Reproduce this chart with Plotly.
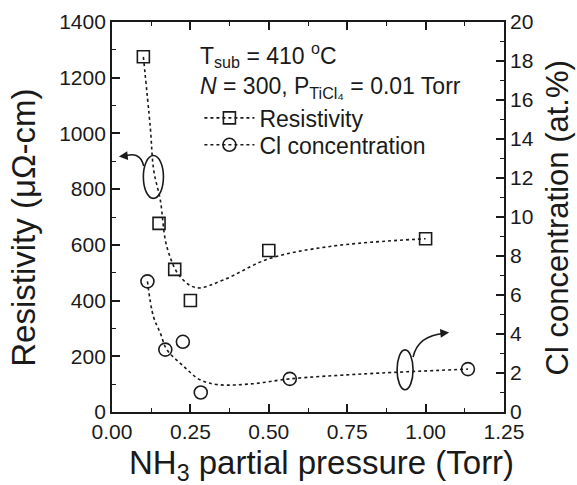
import plotly.graph_objects as go

# Measured data
res_x = [0.10, 0.15, 0.20, 0.25, 0.50, 1.00]
res_y = [1275, 677, 512, 400, 580, 622]
cl_x = [0.113, 0.170, 0.226, 0.283, 0.567, 1.135]
cl_y = [6.7, 3.2, 3.6, 1.0, 1.7, 2.2]

# Guide-to-the-eye curves
res_curve_x = [0.10, 0.122, 0.133, 0.154, 0.175, 0.217, 0.27, 0.355, 0.50, 0.70, 1.00]
res_curve_y = [1275, 1023, 868, 761, 593, 486, 446, 474, 550, 595, 622]
cl_curve_x = [0.113, 0.132, 0.154, 0.175, 0.228, 0.281, 0.34, 0.45, 0.567, 0.80, 1.135]
cl_curve_y = [6.7, 4.9, 4.05, 3.2, 2.35, 1.65, 1.4, 1.45, 1.7, 1.95, 2.2]

x_ticks = [0.00, 0.25, 0.50, 0.75, 1.00, 1.25]
x_labels = ["0.00", "0.25", "0.50", "0.75", "1.00", "1.25"]

INK = "#1a1a1a"
FONT = "Liberation Sans, Arial, sans-serif"

fig = go.Figure()
fig.add_trace(go.Scatter(x=res_curve_x, y=res_curve_y, mode="lines",
                         line=dict(color=INK, width=1.6, dash="dot", shape="spline", smoothing=1.0),
                         showlegend=False, hoverinfo="skip"))
fig.add_trace(go.Scatter(x=res_x, y=res_y, mode="markers",
                         marker=dict(symbol="square-open", size=12, color=INK, line=dict(width=1.6)),
                         showlegend=False))
fig.add_trace(go.Scatter(x=cl_curve_x, y=cl_curve_y, mode="lines", yaxis="y2",
                         line=dict(color=INK, width=1.6, dash="dot", shape="spline", smoothing=1.0),
                         showlegend=False, hoverinfo="skip"))
fig.add_trace(go.Scatter(x=cl_x, y=cl_y, mode="markers", yaxis="y2",
                         marker=dict(symbol="circle-open", size=13, color=INK, line=dict(width=1.6)),
                         showlegend=False))
# legend entries
fig.add_trace(go.Scatter(x=[None], y=[None], mode="lines+markers", name="Resistivity",
                         line=dict(color=INK, width=1.6, dash="dot"), legend="legend",
                         marker=dict(symbol="square-open", size=12, color=INK, line=dict(width=1.6))))
fig.add_trace(go.Scatter(x=[None], y=[None], mode="lines+markers", name="Cl concentration",
                         line=dict(color=INK, width=1.6, dash="dot"), legend="legend2",
                         marker=dict(symbol="circle-open", size=13, color=INK, line=dict(width=1.6))))

axis_common = dict(showline=True, linecolor=INK, linewidth=1.8, ticks="inside",
                   ticklen=8, tickwidth=1.5, tickcolor=INK, showgrid=False, zeroline=False,
                   automargin=False,
                   tickfont=dict(size=21, color=INK, family=FONT))

legend_common = dict(xanchor="left", yanchor="middle", bgcolor="rgba(0,0,0,0)",
                     font=dict(size=23, color=INK, family=FONT), itemwidth=50)

fig.update_layout(
    width=577, height=485,
    margin=dict(l=112, r=73, t=22, b=73),
    paper_bgcolor="white", plot_bgcolor="white",
    font=dict(family=FONT, color=INK),
    xaxis=dict(range=[0, 1.25], tickvals=x_ticks, ticktext=x_labels, mirror="ticks",
               minor=dict(ticks="inside", ticklen=4, tickwidth=1.2, tickcolor=INK, dtick=0.125, tick0=0),
               **axis_common),
    yaxis=dict(range=[0, 1400], dtick=200,
               minor=dict(ticks="inside", ticklen=4, tickwidth=1.2, tickcolor=INK, dtick=100),
               **axis_common),
    yaxis2=dict(range=[0, 20], dtick=2, overlaying="y", side="right",
                minor=dict(ticks="inside", ticklen=4, tickwidth=1.2, tickcolor=INK, dtick=1),
                **axis_common),
    legend=dict(x=0.223, y=0.754, **legend_common),
    legend2=dict(x=0.223, y=0.685, **legend_common),
    showlegend=True,
)

# axis titles
fig.add_annotation(xref="paper", yref="paper", x=0.5335, y=-0.135, xanchor="center", yanchor="middle",
                   text="NH<sub>3</sub> partial pressure (Torr)", showarrow=False, font=dict(size=33))
fig.add_annotation(xref="paper", yref="paper", x=-0.226, y=0.4735, xanchor="center", yanchor="middle",
                   text="Resistivity (μΩ-cm)", textangle=-90, showarrow=False, font=dict(size=33))
fig.add_annotation(xref="paper", yref="paper", x=1.137, y=0.498, xanchor="center", yanchor="middle",
                   text="Cl concentration (at.%)", textangle=-90, showarrow=False, font=dict(size=31))

fig.add_annotation(xref="paper", yref="paper", x=0.22, y=0.915, xanchor="left", yanchor="middle",
                   text="T<sub>sub</sub> = 410 <sup>o</sup>C", showarrow=False, font=dict(size=23))
fig.add_annotation(xref="paper", yref="paper", x=0.22, y=0.833, xanchor="left", yanchor="middle",
                   text="<i>N</i> = 300, P<sub>TiCl₄</sub> = 0.01 Torr", showarrow=False, font=dict(size=23))

# ellipses marking which axis each series belongs to
fig.add_shape(type="circle", xref="x", yref="y", x0=0.100, x1=0.164, y0=767, y1=921,
              line=dict(color=INK, width=1.6))
fig.add_shape(type="circle", xref="x", yref="y", x0=0.909, x1=0.960, y0=80, y1=223,
              line=dict(color=INK, width=1.6))
# curved arrows
fig.add_shape(type="path", xref="x", yref="y", path="M 0.101,883 Q 0.090,940 0.035,917",
              line=dict(color=INK, width=1.6))
fig.add_annotation(xref="x", yref="y", x=0.022, y=917, ax=10, ay=-1, text="", showarrow=True,
                   arrowhead=2, arrowsize=1.1, arrowwidth=1.6, arrowcolor=INK)
fig.add_shape(type="path", xref="x", yref="y", path="M 0.960,197 Q 0.975,275 1.06,282",
              line=dict(color=INK, width=1.6))
fig.add_annotation(xref="x", yref="y", x=1.075, y=285, ax=-10, ay=1, text="", showarrow=True,
                   arrowhead=2, arrowsize=1.1, arrowwidth=1.6, arrowcolor=INK)

fig.write_html("out.html", config={"displayModeBar": False},
               post_script="document.body.style.margin='0px';")
